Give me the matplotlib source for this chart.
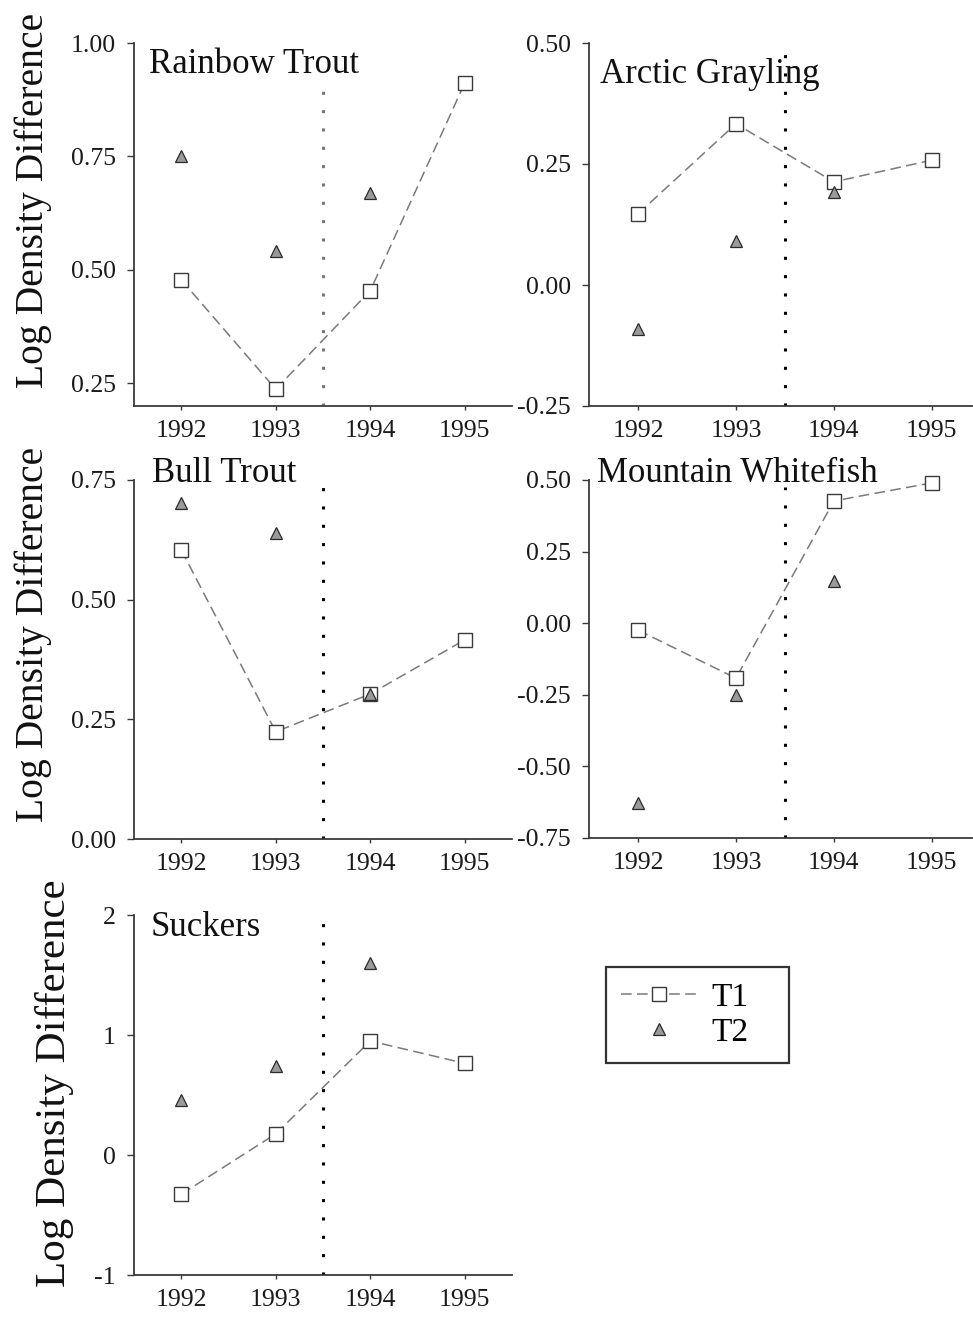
import numpy as np
import matplotlib
matplotlib.use("Agg")
import matplotlib.pyplot as plt
from matplotlib.ticker import FormatStrFormatter

plt.rcParams['font.family'] = ['Liberation Serif', 'DejaVu Serif']

years = [1992, 1993, 1994, 1995]
species = ["Rainbow Trout", "Arctic Grayling", "Bull Trout",
           "Mountain Whitefish", "Suckers"]

# T1 = open squares joined by a dashed line, T2 = grey triangles (no 1995)
rainbow_t1 = [0.478, 0.237, 0.454, 0.912]
rainbow_t2 = [0.752, 0.542, 0.670, np.nan]
grayling_t1 = [0.147, 0.333, 0.213, 0.258]
grayling_t2 = [-0.090, 0.091, 0.192, np.nan]
bull_t1 = [0.604, 0.224, 0.303, 0.416]
bull_t2 = [0.702, 0.639, 0.302, np.nan]
whitefish_t1 = [-0.024, -0.192, 0.427, 0.490]
whitefish_t2 = [-0.629, -0.252, 0.147, np.nan]
suckers_t1 = [-0.327, 0.176, 0.950, 0.764]
suckers_t2 = [0.456, 0.745, 1.604, np.nan]

t1_series = [rainbow_t1, grayling_t1, bull_t1, whitefish_t1, suckers_t1]
t2_series = [rainbow_t2, grayling_t2, bull_t2, whitefish_t2, suckers_t2]

ylims = [(0.2, 1.0), (-0.25, 0.5), (0.0, 0.75), (-0.75, 0.5), (-1, 2)]
yticks = [[0.25, 0.50, 0.75, 1.00],
          [-0.25, 0.00, 0.25, 0.50],
          [0.00, 0.25, 0.50, 0.75],
          [-0.75, -0.50, -0.25, 0.00, 0.25, 0.50],
          [-1, 0, 1, 2]]
yfmt = ["%.2f", "%.2f", "%.2f", "%.2f", "%d"]
treatment_year = 1993.5

# layout in pixels of the 973 x 1321 picture: (left, top, right, bottom)
W, H = 973.0, 1321.0
boxes = [(134, 43, 512, 406), (589, 43, 972, 406),
         (134, 480, 512, 839), (589, 480, 972, 838),
         (134, 915, 512, 1275)]
xlims = [(1991.5, 1995.5), (1991.5, 1995.41),
         (1991.5, 1995.5), (1991.5, 1995.41),
         (1991.5, 1995.5)]
title_pos = [(0.04, 0.985), (0.028, 0.96), (0.047, 1.065), (0.02, 1.065), (0.045, 1.01)]
vline_top = [0.90, 0.98, 0.985, 0.98, 0.99]
vline_col = ["#777777", "black", "black", "black", "black"]

fig = plt.figure(figsize=(W / 100, H / 100), dpi=100)

t1_kw = dict(color="#7a7a7a", lw=1.1, dashes=(7, 3.5), marker="s", ms=9.5,
             mfc="white", mec="#3a3a3a", mew=1.0, clip_on=False)
t2_kw = dict(ls="none", marker="^", ms=8, mfc="#9a9a9a", mec="#2a2a2a",
             mew=0.9, clip_on=False)

axes = []
for i, (l, t, r, b) in enumerate(boxes):
    ax = fig.add_axes([l / W, 1 - b / H, (r - l) / W, (b - t) / H])
    axes.append(ax)
    ax.plot(years, t1_series[i], label="T1", zorder=3, **t1_kw)
    ax.plot(years, t2_series[i], label="T2", zorder=4, **t2_kw)
    ax.axvline(treatment_year, ymin=0, ymax=vline_top[i], color=vline_col[i],
               lw=2.2, ls=(0, (1, 5)), zorder=2)
    ax.set_xlim(*xlims[i])
    ax.set_ylim(*ylims[i])
    ax.set_xticks(years)
    ax.set_yticks(yticks[i])
    ax.yaxis.set_major_formatter(FormatStrFormatter(yfmt[i]))
    for s in ("top", "right"):
        ax.spines[s].set_visible(False)
    for s in ("left", "bottom"):
        ax.spines[s].set_color("#3a3a3a")
        ax.spines[s].set_linewidth(1.3)
    ax.tick_params(axis="both", labelsize=18.5, colors="#3a3a3a",
                   labelcolor="#1a1a1a", width=1.0)
    ax.tick_params(axis="y", length=5, pad=8)
    ax.tick_params(axis="x", length=3, pad=7)
    ax.text(title_pos[i][0], title_pos[i][1], species[i],
            transform=ax.transAxes, fontsize=25, ha="left", va="top",
            color="#111111", zorder=5)

# shared y label, once per row
ylabel = "Log Density Difference"
fig.text(33 / W, 1 - 200 / H, ylabel, rotation=90, fontsize=28.5,
         ha="center", va="center", color="#111111")
fig.text(33 / W, 1 - 634 / H, ylabel, rotation=90, fontsize=28.5,
         ha="center", va="center", color="#111111")
fig.text(55 / W, 1 - 1083 / H, ylabel, rotation=90, fontsize=31,
         ha="center", va="center", color="#111111")

handles, labels = axes[4].get_legend_handles_labels()
leg = fig.legend(handles, labels, loc="upper left", mode="expand",
                 bbox_to_anchor=(606 / W, 1 - 1064 / H, 183 / W, 97 / H),
                 fontsize=24, frameon=True, fancybox=False, handlelength=2.3,
                 handletextpad=0.4, labelspacing=0.15, borderpad=0.45,
                 borderaxespad=0.0)
leg.get_frame().set_edgecolor("black")
leg.get_frame().set_linewidth(1.6)

fig.savefig("out.png", dpi=100)
